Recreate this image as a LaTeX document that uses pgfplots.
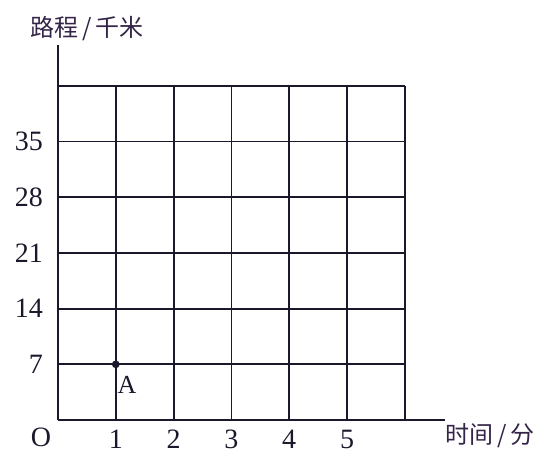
\documentclass[border=0pt]{standalone}
\usepackage{fontspec}
\setmainfont{Liberation Serif}
\newfontfamily\cjk{Noto Sans CJK SC}
\usepackage{pgfplots}
\pgfplotsset{compat=1.18}
\definecolor{ink}{RGB}{28,24,44}
\definecolor{cjkink}{RGB}{52,36,72}

\begin{document}
\begin{tikzpicture}
    \path[use as bounding box] (-58pt,-46pt) rectangle (498pt,420pt);
    \begin{axis}[at={(0,0)}, anchor=south west,
                 x=57.8pt, y=7.957pt,
                 xmin=0, xmax=6.7,
                 ymin=0, ymax=47.1,
                 axis x line=bottom,
                 axis y line=left,
                 axis line style={-, line width=1.8pt, draw=ink},
                 xtick={1,...,5},
                 ytick={7,14,21,28,35},
                 major tick length=0pt,
                 tick style={draw=none},
                 /pgf/number format/assume math mode=true,
                 ticklabel style={font=\fontsize{28}{30}\selectfont, text=ink, inner sep=0pt},
                 xticklabel style={anchor=north, yshift=-10pt},
                 yticklabel style={anchor=east, xshift=-15pt},
                 clip=false]
    % grid of the squared paper
    \pgfplotsinvokeforeach{1,2,3,4,5,6}{
        \draw[ink, line width=1.8pt] (axis cs:#1,0) -- (axis cs:#1,42);
    }
    \pgfplotsinvokeforeach{7,14,21,28,35,42}{
        \draw[ink, line width=1.8pt] (axis cs:0,#1) -- (axis cs:6,#1);
    }
    \addplot[only marks, mark=*, mark size=3.6pt, color=ink] coordinates {(1,7)};
    \node[anchor=north west, inner sep=0pt, font=\fontsize{26}{28}\selectfont, text=ink]
        at (axis cs:1.03,5.5) {A};
    \end{axis}
    \node[anchor=center, inner sep=0pt, font=\fontsize{28}{30}\selectfont, text=ink] at (-17pt,-17pt) {O};
    \node[anchor=west, inner sep=0pt, font=\cjk\fontsize{24}{26}\selectfont, text=cjkink] at (-28pt,391pt) {路程\,/\,千米};
    \node[anchor=west, inner sep=0pt, font=\cjk\fontsize{24}{26}\selectfont, text=cjkink] at (387pt,-16pt) {时间\,/\,分};
\end{tikzpicture}
\end{document}
